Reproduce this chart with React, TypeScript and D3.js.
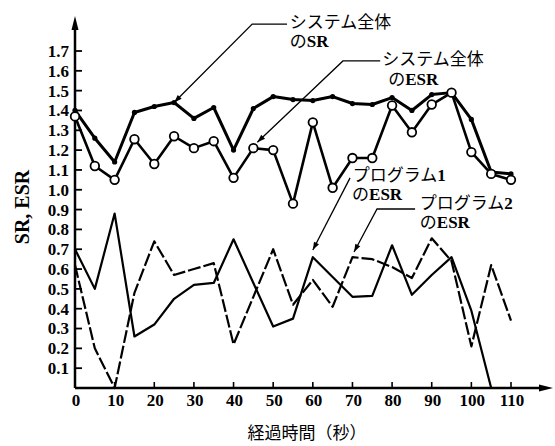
import * as d3 from 'd3';

// elapsed time in seconds, one sample every 5 s
const seconds = [0, 5, 10, 15, 20, 25, 30, 35, 40, 45, 50, 55, 60, 65, 70, 75, 80, 85, 90, 95, 100, 105, 110];

const systemSR = [1.40, 1.26, 1.14, 1.39, 1.42, 1.44, 1.36, 1.415, 1.20, 1.41, 1.47, 1.455, 1.45, 1.47, 1.435, 1.43, 1.465, 1.40, 1.48, 1.49, 1.355, 1.09, 1.08];
const systemESR = [1.37, 1.12, 1.05, 1.255, 1.13, 1.27, 1.21, 1.245, 1.06, 1.21, 1.20, 0.93, 1.34, 1.01, 1.16, 1.16, 1.425, 1.29, 1.43, 1.49, 1.19, 1.08, 1.05];
const program1ESR = [0.70, 0.50, 0.88, 0.26, 0.32, 0.45, 0.52, 0.53, 0.75, 0.53, 0.31, 0.35, 0.66, 0.56, 0.46, 0.465, 0.72, 0.47, 0.57, 0.66, 0.39, 0.0, null];
const program2ESR = [0.62, 0.20, 0.0, 0.48, 0.74, 0.57, 0.60, 0.63, 0.22, 0.46, 0.70, 0.42, 0.545, 0.41, 0.66, 0.65, 0.61, 0.555, 0.755, 0.64, 0.21, 0.62, 0.34];

const xTicks = [0, 10, 20, 30, 40, 50, 60, 70, 80, 90, 100, 110];
const yTicks = [0.1, 0.2, 0.3, 0.4, 0.5, 0.6, 0.7, 0.8, 0.9, 1.0, 1.1, 1.2, 1.3, 1.4, 1.5, 1.6, 1.7];

const xTitle = '経過時間（秒）';
const yTitle = 'SR, ESR';

// callouts in data units: text lines, where the leader starts/bends and where it points
const callouts = [
  { kana: 'システム全体', latin: 'SR', text: [54.2, 1.8185], text2: [54.2, 1.72], path: [[53.5, 1.836], [44.7, 1.836], [25, 1.44]] },
  { kana: 'システム全体', latin: 'ESR', text: [77.5, 1.629], text2: [79, 1.531], path: [[77, 1.65], [67.6, 1.65], [46, 1.24]] },
  { kana: 'プログラム', num: '1', latin: 'ESR', text: [70.1, 1.0467], text2: [69.9, 0.948], path: [[69.4, 1.06], [60, 0.696]] },
  { kana: 'プログラム', num: '2', latin: 'ESR', text: [87, 0.905], text2: [87, 0.807], path: [[85.8, 0.903], [76.2, 0.903], [70.4, 0.686]] },
];

const serif = "'Liberation Serif', 'DejaVu Serif', serif";
const mixed = "'Liberation Serif', 'Noto Sans CJK JP', serif";
const cjk = "'Noto Sans CJK JP', sans-serif";

export default function App() {
  const width = 555;
  const height = 446;

  const x = d3.scaleLinear().domain([0, 110]).range([75, 511]);
  const y = d3.scaleLinear().domain([0, 1.7]).range([388, 51]);

  const toPoints = (vals: (number | null)[]) =>
    vals.map((v, i) => ({ t: seconds[i], v })).filter((d) => d.v !== null) as { t: number; v: number }[];

  const line = d3
    .line<{ t: number; v: number }>()
    .x((d) => x(d.t))
    .y((d) => y(d.v));

  const sr = toPoints(systemSR);
  const esr = toPoints(systemESR);
  const p1 = toPoints(program1ESR);
  const p2 = toPoints(program2ESR);

  const arrowHead = (from: number[], to: number[], size = 8) => {
    const x0 = x(from[0]);
    const y0 = y(from[1]);
    const x1 = x(to[0]);
    const y1 = y(to[1]);
    const a = Math.atan2(y1 - y0, x1 - x0);
    const w = size * 0.35;
    const bx = x1 - size * Math.cos(a);
    const by = y1 - size * Math.sin(a);
    return `M${x1},${y1}L${bx + w * Math.sin(a)},${by - w * Math.cos(a)}L${bx - w * Math.sin(a)},${by + w * Math.cos(a)}Z`;
  };

  const x0 = x(0);
  const yBase = y(0);

  return (
    <svg
      width={width}
      height={height}
      style={{ position: 'absolute', left: 0, top: 0, background: '#fff' }}
    >
      {/* axes */}
      <line x1={x0} y1={yBase} x2={x0} y2={24} stroke="#000" strokeWidth={2.5} />
      <path d={`M${x0},16L${x0 - 3.5},30L${x0 + 3.5},30Z`} fill="#000" />
      <line x1={x0} y1={yBase} x2={546} y2={yBase} stroke="#000" strokeWidth={2.5} />
      <path d={`M553,${yBase}L539,${yBase - 3.5}L539,${yBase + 3.5}Z`} fill="#000" />

      {yTicks.map((t) => (
        <g key={`y${t}`}>
          <line x1={x0} x2={x0 + 7} y1={y(t)} y2={y(t)} stroke="#000" strokeWidth={1.8} />
          <text
            x={69}
            y={y(t)}
            dy="0.35em"
            textAnchor="end"
            fontFamily={serif}
            fontWeight="bold"
            fontSize={17}
          >
            {t.toFixed(1)}
          </text>
        </g>
      ))}

      {xTicks.map((t) => (
        <g key={`x${t}`}>
          {t > 0 && <line x1={x(t)} x2={x(t)} y1={yBase} y2={yBase - 6} stroke="#000" strokeWidth={1.6} />}
          <text x={x(t) + 1} y={406} textAnchor="middle" fontFamily={serif} fontSize={17} fontWeight="bold">
            {t}
          </text>
        </g>
      ))}

      <text
        transform={`translate(29, 207) rotate(-90)`}
        textAnchor="middle"
        fontFamily={serif}
        fontWeight="bold"
        fontSize={20}
      >
        {yTitle}
      </text>
      <text x={307} y={439} textAnchor="middle" fontFamily={cjk} fontSize={17}>
        {xTitle}
      </text>

      {/* program lines */}
      <path d={line(p2) ?? ''} fill="none" stroke="#000" strokeWidth={2.2} strokeDasharray="13 3" strokeLinejoin="round" />
      <path d={line(p1) ?? ''} fill="none" stroke="#000" strokeWidth={2.2} strokeLinejoin="round" />

      {/* system lines */}
      <path d={line(sr) ?? ''} fill="none" stroke="#000" strokeWidth={3} strokeLinejoin="round" />
      {sr.map((d) => (
        <circle key={`sr${d.t}`} cx={x(d.t)} cy={y(d.v)} r={2.6} fill="#000" />
      ))}
      <path d={line(esr) ?? ''} fill="none" stroke="#000" strokeWidth={2.6} strokeLinejoin="round" />
      {esr.map((d) => (
        <circle key={`esr${d.t}`} cx={x(d.t)} cy={y(d.v)} r={4.3} fill="#fff" stroke="#000" strokeWidth={1.8} />
      ))}

      {/* callouts */}
      {callouts.map((c, i) => {
        const n = c.path.length;
        return (
          <g key={`c${i}`}>
            <path
              d={d3.line()(c.path.map((p) => [x(p[0]), y(p[1])] as [number, number])) ?? ''}
              fill="none"
              stroke="#000"
              strokeWidth={1.3}
            />
            <path d={arrowHead(c.path[n - 2], c.path[n - 1])} fill="#000" />
            <text x={x(c.text[0])} y={y(c.text[1])} fontSize={17} fontFamily={mixed}>
              {c.kana}
              {c.num && <tspan fontWeight="bold">{c.num}</tspan>}
            </text>
            <text x={x(c.text2[0])} y={y(c.text2[1])} fontSize={17} fontFamily={mixed}>
              の<tspan fontWeight="bold">{c.latin}</tspan>
            </text>
          </g>
        );
      })}
    </svg>
  );
}
